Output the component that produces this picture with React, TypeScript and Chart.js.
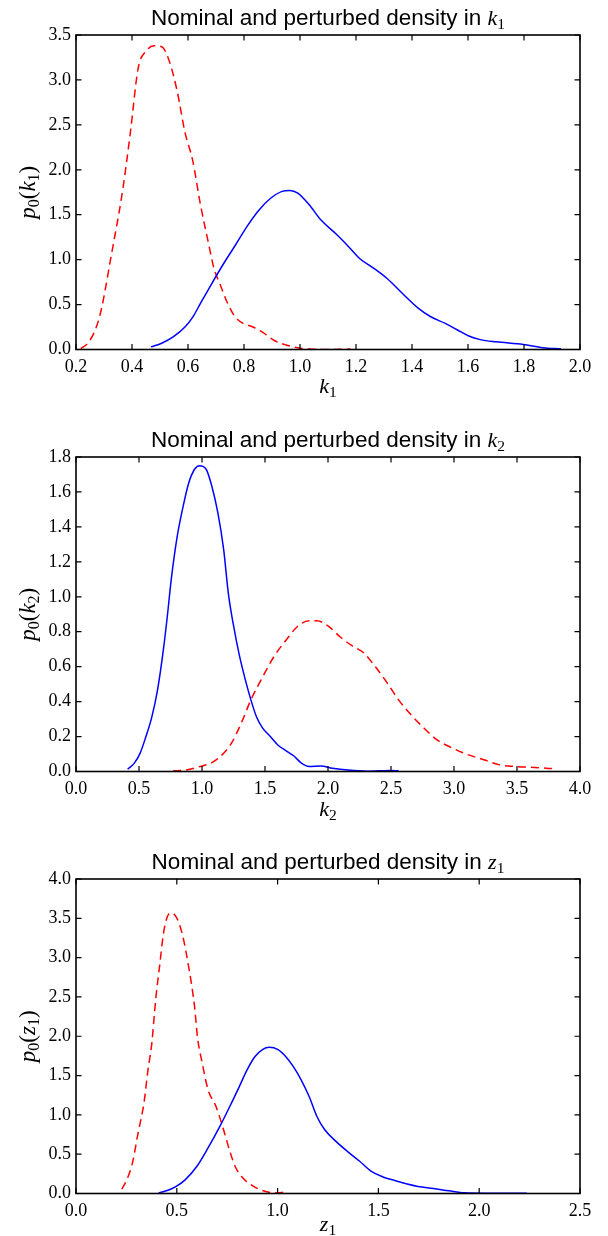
import React, { useEffect, useRef } from 'react';
import { Chart, registerables } from 'chart.js';

Chart.register(...registerables);

// ---------- Data ----------
// Chart 1: density in k1
const k1NominalX = [0.468, 0.506, 0.547, 0.589, 0.617, 0.644, 0.686, 0.728, 0.769, 0.811, 0.853, 0.894, 0.936, 0.964, 0.992, 1.033, 1.075, 1.131, 1.172, 1.214, 1.256, 1.311, 1.367, 1.422, 1.464, 1.519, 1.561, 1.603, 1.644, 1.7, 1.797, 1.867, 1.932];
const k1NominalY = [0.03, 0.07, 0.14, 0.25, 0.36, 0.51, 0.74, 0.96, 1.16, 1.37, 1.55, 1.68, 1.76, 1.77, 1.74, 1.61, 1.44, 1.28, 1.15, 1.01, 0.92, 0.79, 0.62, 0.46, 0.37, 0.29, 0.22, 0.15, 0.11, 0.085, 0.056, 0.02, 0.007];
const k1PerturbedX = [0.217, 0.242, 0.269, 0.29, 0.325, 0.367, 0.394, 0.422, 0.45, 0.478, 0.506, 0.533, 0.561, 0.589, 0.617, 0.644, 0.672, 0.693, 0.714, 0.742, 0.769, 0.797, 0.832, 0.867, 0.908, 0.95, 0.992, 1.033, 1.1, 1.18];
const k1PerturbedY = [0.01, 0.07, 0.22, 0.44, 1.03, 1.78, 2.41, 3.13, 3.32, 3.38, 3.37, 3.21, 2.88, 2.42, 2.1, 1.62, 1.2, 0.9, 0.73, 0.51, 0.36, 0.29, 0.25, 0.19, 0.1, 0.05, 0.02, 0.005, 0.0, 0.005];
const k1XTicks = [0.2, 0.4, 0.6, 0.8, 1.0, 1.2, 1.4, 1.6, 1.8, 2.0];
const k1YTicks = [0.0, 0.5, 1.0, 1.5, 2.0, 2.5, 3.0, 3.5];

// Chart 2: density in k2
const k2NominalX = [0.41, 0.463, 0.509, 0.555, 0.601, 0.648, 0.694, 0.725, 0.756, 0.802, 0.848, 0.894, 0.941, 0.981, 1.033, 1.079, 1.126, 1.172, 1.209, 1.249, 1.295, 1.342, 1.388, 1.434, 1.48, 1.542, 1.604, 1.665, 1.727, 1.789, 1.85, 1.943, 2.035, 2.159, 2.313, 2.498, 2.56];
const k2NominalY = [0.013, 0.048, 0.105, 0.2, 0.31, 0.47, 0.7, 0.89, 1.1, 1.34, 1.51, 1.65, 1.73, 1.75, 1.73, 1.63, 1.48, 1.27, 1.02, 0.84, 0.67, 0.53, 0.41, 0.31, 0.25, 0.2, 0.15, 0.12, 0.09, 0.048, 0.029, 0.032, 0.019, 0.008, 0.002, 0.006, 0.004];
const k2PerturbedX = [0.771, 0.864, 0.987, 1.079, 1.172, 1.234, 1.311, 1.388, 1.48, 1.573, 1.665, 1.758, 1.85, 1.912, 2.005, 2.097, 2.19, 2.282, 2.375, 2.467, 2.56, 2.652, 2.745, 2.868, 2.991, 3.115, 3.238, 3.362, 3.485, 3.639, 3.809];
const k2PerturbedY = [0.004, 0.008, 0.029, 0.051, 0.105, 0.162, 0.276, 0.41, 0.54, 0.66, 0.75, 0.83, 0.863, 0.863, 0.83, 0.77, 0.72, 0.68, 0.6, 0.51, 0.41, 0.33, 0.26, 0.18, 0.133, 0.095, 0.067, 0.038, 0.029, 0.023, 0.015];
const k2XTicks = [0.0, 0.5, 1.0, 1.5, 2.0, 2.5, 3.0, 3.5, 4.0];
const k2YTicks = [0.0, 0.2, 0.4, 0.6, 0.8, 1.0, 1.2, 1.4, 1.6, 1.8];

// Chart 3: density in z1
const z1NominalX = [0.41, 0.463, 0.501, 0.54, 0.598, 0.655, 0.713, 0.771, 0.81, 0.848, 0.887, 0.925, 0.958, 1.002, 1.041, 1.079, 1.118, 1.157, 1.195, 1.234, 1.291, 1.349, 1.407, 1.465, 1.523, 1.581, 1.638, 1.696, 1.773, 1.85, 1.928, 2.024, 2.236];
const z1NominalY = [0.008, 0.047, 0.097, 0.17, 0.34, 0.58, 0.85, 1.15, 1.36, 1.57, 1.74, 1.83, 1.86, 1.83, 1.74, 1.61, 1.44, 1.23, 0.98, 0.81, 0.66, 0.53, 0.41, 0.28, 0.21, 0.165, 0.123, 0.089, 0.064, 0.034, 0.008, 0.004, 0.004];
const z1PerturbedX = [0.227, 0.251, 0.28, 0.308, 0.337, 0.357, 0.376, 0.395, 0.414, 0.434, 0.453, 0.472, 0.501, 0.53, 0.559, 0.588, 0.603, 0.626, 0.655, 0.694, 0.732, 0.761, 0.79, 0.829, 0.877, 0.925, 0.983, 1.022, 1.05];
const z1PerturbedY = [0.055, 0.17, 0.39, 0.77, 1.15, 1.57, 1.91, 2.46, 2.88, 3.31, 3.52, 3.57, 3.5, 3.27, 2.88, 2.38, 1.98, 1.66, 1.32, 1.11, 0.81, 0.555, 0.34, 0.195, 0.097, 0.038, 0.008, 0.013, 0.025];
const z1XTicks = [0.0, 0.5, 1.0, 1.5, 2.0, 2.5];
const z1YTicks = [0.0, 0.5, 1.0, 1.5, 2.0, 2.5, 3.0, 3.5, 4.0];

const variableNames = ['k', 'k', 'z'];
const variableIndices = ['1', '2', '1'];
const titlePrefix = 'Nominal and perturbed density in ';

// ---------- Styling ----------
const SERIF = '"Liberation Serif", "DejaVu Serif", serif';
const SANS = '"Liberation Sans", Arial, sans-serif';
const CANVAS_W = 608;
const CANVAS_H = 410;
const CANVAS_TOPS = [0, 422, 844];
const XLABEL_BASELINES = [393, 394, 387];

type Part = { t: string; font: string; dy?: number };

function partsWidth(ctx: CanvasRenderingContext2D, parts: Part[]) {
  let w = 0;
  for (const p of parts) {
    ctx.font = p.font;
    w += ctx.measureText(p.t).width;
  }
  return w;
}

function drawParts(ctx: CanvasRenderingContext2D, parts: Part[], x: number, y: number) {
  let cx = x;
  for (const p of parts) {
    ctx.font = p.font;
    ctx.fillText(p.t, cx, y + (p.dy || 0));
    cx += ctx.measureText(p.t).width;
  }
}

function zip(xs: number[], ys: number[]) {
  return xs.map((x, i) => ({ x, y: ys[i] }));
}

type Spec = {
  nomX: number[]; nomY: number[]; perX: number[]; perY: number[];
  xTicks: number[]; yTicks: number[]; idx: number;
};

function makeFramePlugin(spec: Spec) {
  const name = variableNames[spec.idx];
  const sub = variableIndices[spec.idx];
  return {
    id: 'frameAndLabels' + spec.idx,
    afterDatasetsDraw(chart: any) {
      const { ctx, chartArea } = chart;
      const { left, right, top, bottom } = chartArea;
      const xs = chart.scales.x;
      const ys = chart.scales.y;
      ctx.save();
      ctx.strokeStyle = '#000';
      ctx.lineWidth = 1.6;
      ctx.setLineDash([]);
      ctx.strokeRect(left, top, right - left, bottom - top);
      ctx.lineWidth = 1.2;
      const tl = 5.5;
      ctx.beginPath();
      for (const t of xs.ticks) {
        const px = xs.getPixelForValue(t.value);
        ctx.moveTo(px, bottom); ctx.lineTo(px, bottom - tl);
        ctx.moveTo(px, top); ctx.lineTo(px, top + tl);
      }
      for (const t of ys.ticks) {
        const py = ys.getPixelForValue(t.value);
        ctx.moveTo(left, py); ctx.lineTo(left + tl, py);
        ctx.moveTo(right, py); ctx.lineTo(right - tl, py);
      }
      ctx.stroke();

      ctx.fillStyle = '#000';
      ctx.textBaseline = 'alphabetic';
      ctx.textAlign = 'left';
      const cx = (left + right) / 2;

      // Title
      const titleParts: Part[] = [
        { t: titlePrefix, font: `22.5px ${SANS}` },
        { t: name, font: `italic 22px ${SERIF}` },
        { t: sub, font: `15.5px ${SERIF}`, dy: 4 },
      ];
      const tw = partsWidth(ctx, titleParts);
      drawParts(ctx, titleParts, cx - tw / 2, top - 10.5);

      // X label
      const xParts: Part[] = [
        { t: name, font: `italic 22px ${SERIF}` },
        { t: sub, font: `15.5px ${SERIF}`, dy: 4 },
      ];
      const xw = partsWidth(ctx, xParts);
      drawParts(ctx, xParts, cx - xw / 2, XLABEL_BASELINES[spec.idx]);

      // Y label (rotated)
      const yParts: Part[] = [
        { t: 'p', font: `italic 23px ${SERIF}` },
        { t: '0', font: `16px ${SERIF}`, dy: 4 },
        { t: '(', font: `23px ${SERIF}` },
        { t: name, font: `italic 23px ${SERIF}` },
        { t: sub, font: `16px ${SERIF}`, dy: 4 },
        { t: ')', font: `23px ${SERIF}` },
      ];
      const yw = partsWidth(ctx, yParts);
      ctx.save();
      ctx.translate(35, (top + bottom) / 2);
      ctx.rotate(-Math.PI / 2);
      drawParts(ctx, yParts, -yw / 2, 0);
      ctx.restore();

      ctx.restore();
    },
  };
}

function makeConfig(spec: Spec): any {
  const tickFont = { family: SERIF, size: 18 };
  return {
    type: 'line',
    data: {
      datasets: [
        {
          data: zip(spec.nomX, spec.nomY),
          borderColor: '#0000ff',
          borderWidth: 1.5,
          pointRadius: 0,
          fill: false,
          cubicInterpolationMode: 'monotone',
        },
        {
          data: zip(spec.perX, spec.perY),
          borderColor: '#ff0000',
          borderWidth: 1.5,
          borderDash: [8, 5],
          pointRadius: 0,
          fill: false,
          cubicInterpolationMode: 'monotone',
        },
      ],
    },
    options: {
      animation: false,
      responsive: false,
      maintainAspectRatio: false,
      devicePixelRatio: 1,
      layout: { padding: { left: 16, right: 28, top: 35, bottom: 30.5 } },
      plugins: {
        legend: { display: false },
        tooltip: { enabled: false },
        title: { display: false },
      },
      scales: {
        x: {
          type: 'linear',
          min: spec.xTicks[0],
          max: spec.xTicks[spec.xTicks.length - 1],
          grid: { display: false, drawTicks: false },
          border: { display: false },
          afterBuildTicks: (s: any) => { s.ticks = spec.xTicks.map((v) => ({ value: v })); },
          afterFit: (s: any) => { s.height = 30; },
          ticks: {
            autoSkip: false,
            maxRotation: 0,
            padding: 7,
            color: '#000',
            font: tickFont,
            callback: (v: any) => Number(v).toFixed(1),
          },
        },
        y: {
          type: 'linear',
          min: spec.yTicks[0],
          max: spec.yTicks[spec.yTicks.length - 1],
          grid: { display: false, drawTicks: false },
          border: { display: false },
          afterBuildTicks: (s: any) => { s.ticks = spec.yTicks.map((v) => ({ value: v })); },
          afterFit: (s: any) => { s.width = 60; },
          ticks: {
            autoSkip: false,
            padding: 5,
            color: '#000',
            font: tickFont,
            callback: (v: any) => Number(v).toFixed(1),
          },
        },
      },
    },
    plugins: [makeFramePlugin(spec)],
  };
}

function DensityChart({ spec }: { spec: Spec }) {
  const ref = useRef<HTMLCanvasElement | null>(null);
  useEffect(() => {
    if (!ref.current) return;
    const chart = new Chart(ref.current, makeConfig(spec));
    return () => chart.destroy();
  }, [spec]);
  return (
    <canvas
      ref={ref}
      width={CANVAS_W}
      height={CANVAS_H}
      style={{ position: 'absolute', left: 0, top: CANVAS_TOPS[spec.idx], width: CANVAS_W, height: CANVAS_H, display: 'block' }}
    />
  );
}

const specs: Spec[] = [
  { nomX: k1NominalX, nomY: k1NominalY, perX: k1PerturbedX, perY: k1PerturbedY, xTicks: k1XTicks, yTicks: k1YTicks, idx: 0 },
  { nomX: k2NominalX, nomY: k2NominalY, perX: k2PerturbedX, perY: k2PerturbedY, xTicks: k2XTicks, yTicks: k2YTicks, idx: 1 },
  { nomX: z1NominalX, nomY: z1NominalY, perX: z1PerturbedX, perY: z1PerturbedY, xTicks: z1XTicks, yTicks: z1YTicks, idx: 2 },
];

export default function App() {
  useEffect(() => {
    document.body.style.margin = '0';
    document.body.style.background = '#fff';
  }, []);
  return (
    <div style={{ position: 'relative', width: 608, height: 1236, overflow: 'hidden', background: '#fff' }}>
      {specs.map((s) => (
        <DensityChart key={s.idx} spec={s} />
      ))}
    </div>
  );
}
